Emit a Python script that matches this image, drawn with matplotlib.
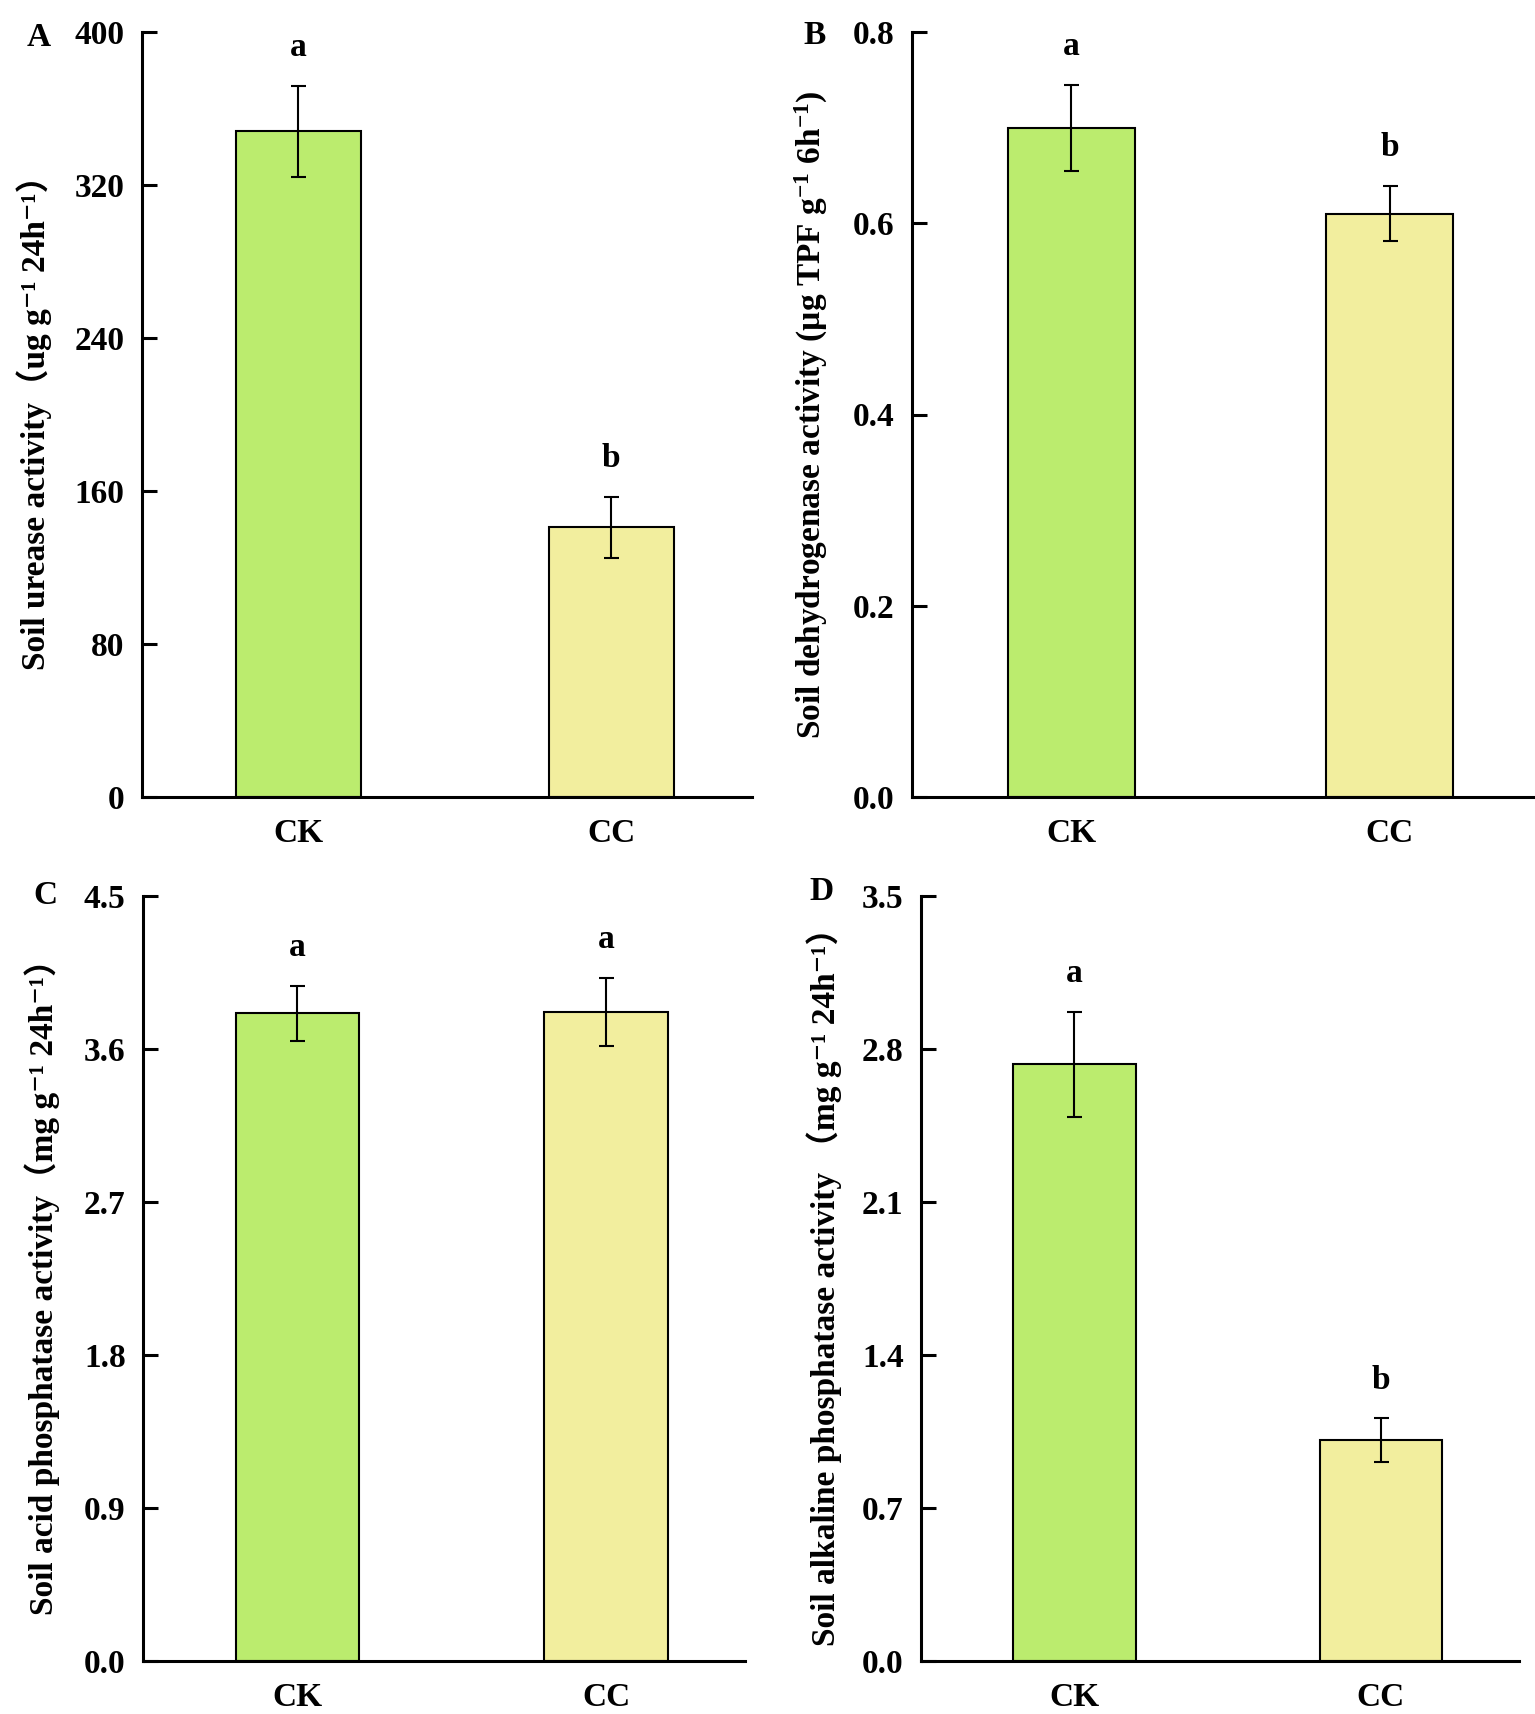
import matplotlib
matplotlib.use("Agg")
import matplotlib.pyplot as plt

# ---- data ----
groups = ["CK", "CC"]
urease = [348, 141]
urease_err = [24, 16]
urease_sig = ["a", "b"]

dehydrogenase = [0.700, 0.610]
dehydrogenase_err = [0.045, 0.029]
dehydrogenase_sig = ["a", "b"]

acid_phos = [3.81, 3.82]
acid_phos_err = [0.16, 0.20]
acid_phos_sig = ["a", "a"]

alk_phos = [2.73, 1.01]
alk_phos_err = [0.24, 0.10]
alk_phos_sig = ["a", "b"]

yticks_A = [0, 80, 160, 240, 320, 400]
yticks_B = [0.0, 0.2, 0.4, 0.6, 0.8]
yticks_C = [0.0, 0.9, 1.8, 2.7, 3.6, 4.5]
yticks_D = [0.0, 0.7, 1.4, 2.1, 2.8, 3.5]
ytl_A = ["0", "80", "160", "240", "320", "400"]
ytl_B = ["0.0", "0.2", "0.4", "0.6", "0.8"]
ytl_C = ["0.0", "0.9", "1.8", "2.7", "3.6", "4.5"]
ytl_D = ["0.0", "0.7", "1.4", "2.1", "2.8", "3.5"]

label_A = "Soil urease activity（ug g⁻¹ 24h⁻¹）"
label_B = r"Soil dehydrogenase activity (µg TPF g$^{\mathbf{-1}}$ 6h$^{\mathbf{-1}}$)"
label_C = "Soil acid phosphatase activity（mg g⁻¹ 24h⁻¹）"
label_D = "Soil alkaline phosphatase activity （mg g⁻¹ 24h⁻¹）"

bar_colors = ["#bbec6e", "#f2ee9e"]

FAM = ["Liberation Serif", "DejaVu Serif", "Noto Sans CJK SC"]
plt.rcParams["font.family"] = FAM
plt.rcParams["font.weight"] = "bold"
plt.rcParams["mathtext.fontset"] = "custom"
plt.rcParams["mathtext.rm"] = "Liberation Serif:bold"
plt.rcParams["mathtext.it"] = "Liberation Serif:italic:bold"
plt.rcParams["mathtext.bf"] = "Liberation Serif:bold"
plt.rcParams["mathtext.default"] = "bf"
FS = 24

W, H = 1535, 1714
fig = plt.figure(figsize=(W / 100, H / 100), dpi=100)

def px_axes(l, r, t, b):
    return fig.add_axes([l / W, 1 - b / H, (r - l) / W, (b - t) / H])

panels = [
    dict(box=(142, 752, 32, 797), vals=urease, err=urease_err, sig=urease_sig,
         ticks=yticks_A, tl=ytl_A, label=label_A, letter="A", lpos=(39, 38), lx=-90),
    dict(box=(912, 1533, 32, 797), vals=dehydrogenase, err=dehydrogenase_err, sig=dehydrogenase_sig,
         ticks=yticks_B, tl=ytl_B, label=label_B, letter="B", lpos=(815, 35), lx=-82),
    dict(box=(143, 745, 896, 1661), vals=acid_phos, err=acid_phos_err, sig=acid_phos_sig,
         ticks=yticks_C, tl=ytl_C, label=label_C, letter="C", lpos=(45, 895), lx=-83),
    dict(box=(921, 1519, 896, 1661), vals=alk_phos, err=alk_phos_err, sig=alk_phos_sig,
         ticks=yticks_D, tl=ytl_D, label=label_D, letter="D", lpos=(822, 891), lx=-79),
]

for p in panels:
    l, r, t, b = p["box"]
    ax = px_axes(l, r, t, b)
    x = list(range(len(groups)))
    ax.bar(x, p["vals"], width=0.4, color=bar_colors, edgecolor="black",
           linewidth=1.5, zorder=2)
    ax.errorbar(x, p["vals"], yerr=p["err"], fmt="none", ecolor="black",
                elinewidth=1.5, capsize=5.4, capthick=1.5, zorder=3)
    for xi, v, e, s in zip(x, p["vals"], p["err"], p["sig"]):
        ax.annotate(s, xy=(xi, v + e), xytext=(0, 27.5), textcoords="offset points",
                    ha="center", va="center", fontsize=FS, fontweight="bold")
    ax.set_xlim(-0.5, 1.45)
    ax.set_ylim(p["ticks"][0], p["ticks"][-1])
    ax.set_yticks(p["ticks"])
    ax.set_yticklabels(p["tl"], fontsize=FS, fontweight="bold")
    ax.set_xticks(x)
    ax.set_xticklabels(groups, fontsize=FS, fontweight="bold")
    for sp in ["top", "right"]:
        ax.spines[sp].set_visible(False)
    for sp in ["left", "bottom"]:
        ax.spines[sp].set_linewidth(2.2)
    ax.tick_params(axis="y", direction="in", length=11, width=2.2, pad=12.5)
    ax.tick_params(axis="x", length=0, pad=15)
    ax.set_ylabel(p["label"], fontsize=FS, fontweight="bold")
    ax.yaxis.set_label_coords(p["lx"] / (r - l), 0.5)
    fig.text(p["lpos"][0] / W, 1 - p["lpos"][1] / H, p["letter"], ha="center",
             va="center", fontsize=FS, fontweight="bold")

fig.savefig("out.png", dpi=100, facecolor="white")
